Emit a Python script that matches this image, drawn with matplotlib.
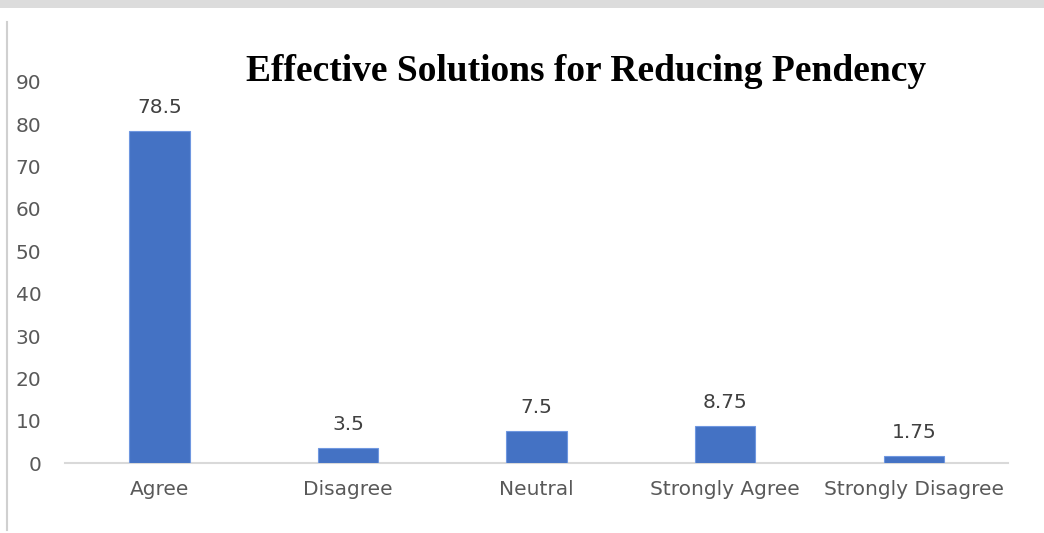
import matplotlib.pyplot as plt
from matplotlib.lines import Line2D
from matplotlib.patches import Rectangle

categories = ["Agree", "Disagree", "Neutral", "Strongly Agree", "Strongly Disagree"]
values = [78.5, 3.5, 7.5, 8.75, 1.75]
value_labels = ["78.5", "3.5", "7.5", "8.75", "1.75"]
yticks = [0, 10, 20, 30, 40, 50, 60, 70, 80, 90]

plt.rcParams['font.family'] = ['DejaVu Sans']

fig = plt.figure(figsize=(10.44, 5.33), dpi=100)
ax = fig.add_axes([0.0623, 0.1313, 0.9032, 0.7149])

x = range(len(categories))
bars = ax.bar(x, values, width=0.32, color="#4472C4", edgecolor="#6f97e0", linewidth=0.8, zorder=3)

for b, lab in zip(bars, value_labels):
    ax.annotate(lab, (b.get_x() + b.get_width() / 2, b.get_height()),
                xytext=(0, 10), textcoords="offset points",
                ha="center", va="bottom", fontsize=14.5, color="#404040")

ax.set_xlim(-0.5, len(categories) - 0.5)
ax.set_ylim(0, 90)
ax.set_yticks(yticks)
ax.set_xticks(list(x))
ax.set_xticklabels(categories)
ax.tick_params(axis="both", length=0, labelsize=14.5, labelcolor="#595959")
ax.tick_params(axis="x", pad=12)
ax.tick_params(axis="y", pad=17)

for side in ["top", "right", "left"]:
    ax.spines[side].set_visible(False)
ax.spines["bottom"].set_color("#d9d9d9")
ax.spines["bottom"].set_linewidth(1.5)

fig.text(0.561, 0.866, "Effective Solutions for Reducing Pendency",
         ha="center", va="center", fontsize=27, fontweight="bold",
         family="Liberation Serif", color="black")

# outer frame edges
fig.add_artist(Rectangle((0, 1 - 8 / 533), 1, 8 / 533, transform=fig.transFigure,
                         color="#dcdcdc", lw=0))
fig.add_artist(Line2D([6.5 / 1044, 6.5 / 1044], [0.005, 1 - 22 / 533],
                      transform=fig.transFigure, color="#d0d0d0", lw=1.5))

fig.savefig("out.png", dpi=100)
